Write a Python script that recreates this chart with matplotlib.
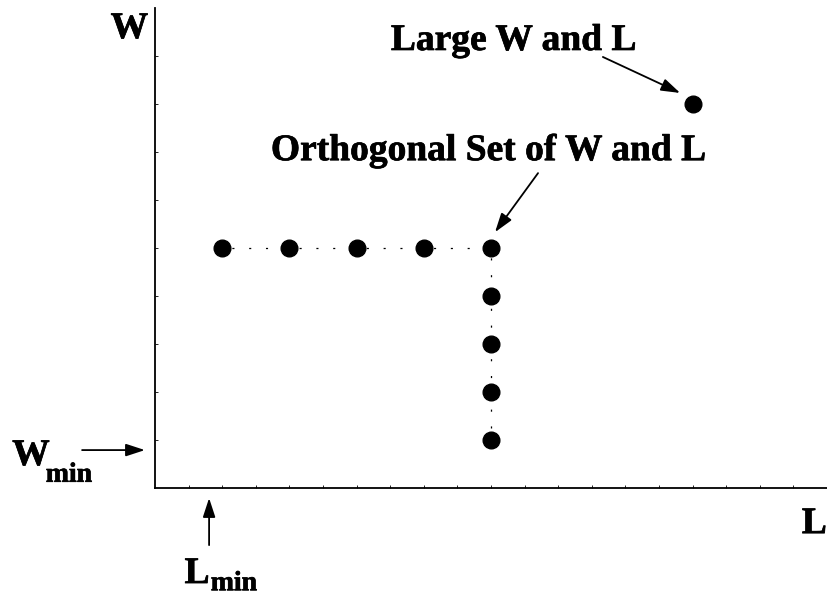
import matplotlib
matplotlib.use("Agg")
import matplotlib.pyplot as plt
import matplotlib.patheffects as pe

plt.rcParams['font.family'] = ['Liberation Serif', 'DejaVu Serif']
plt.rcParams['font.weight'] = 'bold'
plt.rcParams['lines.scale_dashes'] = False

# data: grid units of the W-L plane
row_L = [2, 4, 6, 8, 10]
row_W = [5, 5, 5, 5, 5]
col_L = [10, 10, 10, 10]
col_W = [4, 3, 2, 1]
large_L = [16]
large_W = [8]
x_ticks = list(range(1, 20))
y_ticks = list(range(1, 10))

W, H = 827, 598
fig = plt.figure(figsize=(W / 100, H / 100), dpi=100)
ax = fig.add_axes([155 / W, 110 / H, 672 / W, 480 / H])
ax.set_xlim(0, 20)
ax.set_ylim(0, 10)

for s in ['top', 'right']:
    ax.spines[s].set_visible(False)
for s in ['left', 'bottom']:
    ax.spines[s].set_linewidth(1.3)
ax.set_xticks(x_ticks)
ax.set_yticks(y_ticks)
ax.tick_params(direction='in', length=2.5, width=0.6, labelbottom=False, labelleft=False)

# dotted guide lines
dots = (5.0, (1.5, 10.6))
ax.plot(row_L, row_W, color='black', lw=0.9, linestyle=dots)
ax.plot([row_L[-1]] + col_L, [row_W[-1]] + col_W, color='black', lw=0.9, linestyle=dots)

ms = 12
ax.plot(row_L, row_W, 'o', color='black', ms=ms, lw=0)
ax.plot(col_L, col_W, 'o', color='black', ms=ms, lw=0)
ax.plot(large_L, large_W, 'o', color='black', ms=ms, lw=0, clip_on=False)

arrow = dict(arrowstyle='-|>,head_length=0.55,head_width=0.18', mutation_scale=21,
             color='black', lw=1.3, shrinkA=0, shrinkB=0)
fs = 27
sub = 20
bold = [pe.withStroke(linewidth=0.5, foreground='black')]
txt = dict(fontweight='bold', ha='left', va='baseline', clip_on=False, path_effects=bold)

ax.annotate('', xy=(15.63, 8.23), xytext=(13.33, 8.98), arrowprops=arrow, annotation_clip=False)
ax.text(7.02, 9.125, 'Large W and L', fontsize=fs, **txt)

ax.annotate('', xy=(10.12, 5.33), xytext=(11.40, 6.56), arrowprops=arrow, annotation_clip=False)
ax.text(3.45, 6.83, 'Orthogonal Set of W and L', fontsize=fs, **txt)

ax.text(-1.32, 9.375, 'W', fontsize=fs, **txt)
ax.text(19.25, -0.94, 'L', fontsize=fs, **txt)

ax.annotate('', xy=(-0.30, 0.79), xytext=(-2.17, 0.79), arrowprops=arrow, annotation_clip=False)
ax.text(-4.25, 0.48, 'W', fontsize=fs, **txt)
ax.text(-3.25, 0.13, 'min', fontsize=sub, **txt)

ax.annotate('', xy=(1.61, -0.21), xytext=(1.61, -1.19), arrowprops=arrow, annotation_clip=False)
ax.text(0.88, -1.98, 'L', fontsize=fs, **txt)
ax.text(1.66, -2.13, 'min', fontsize=sub, **txt)

fig.savefig('out.png', dpi=100)
